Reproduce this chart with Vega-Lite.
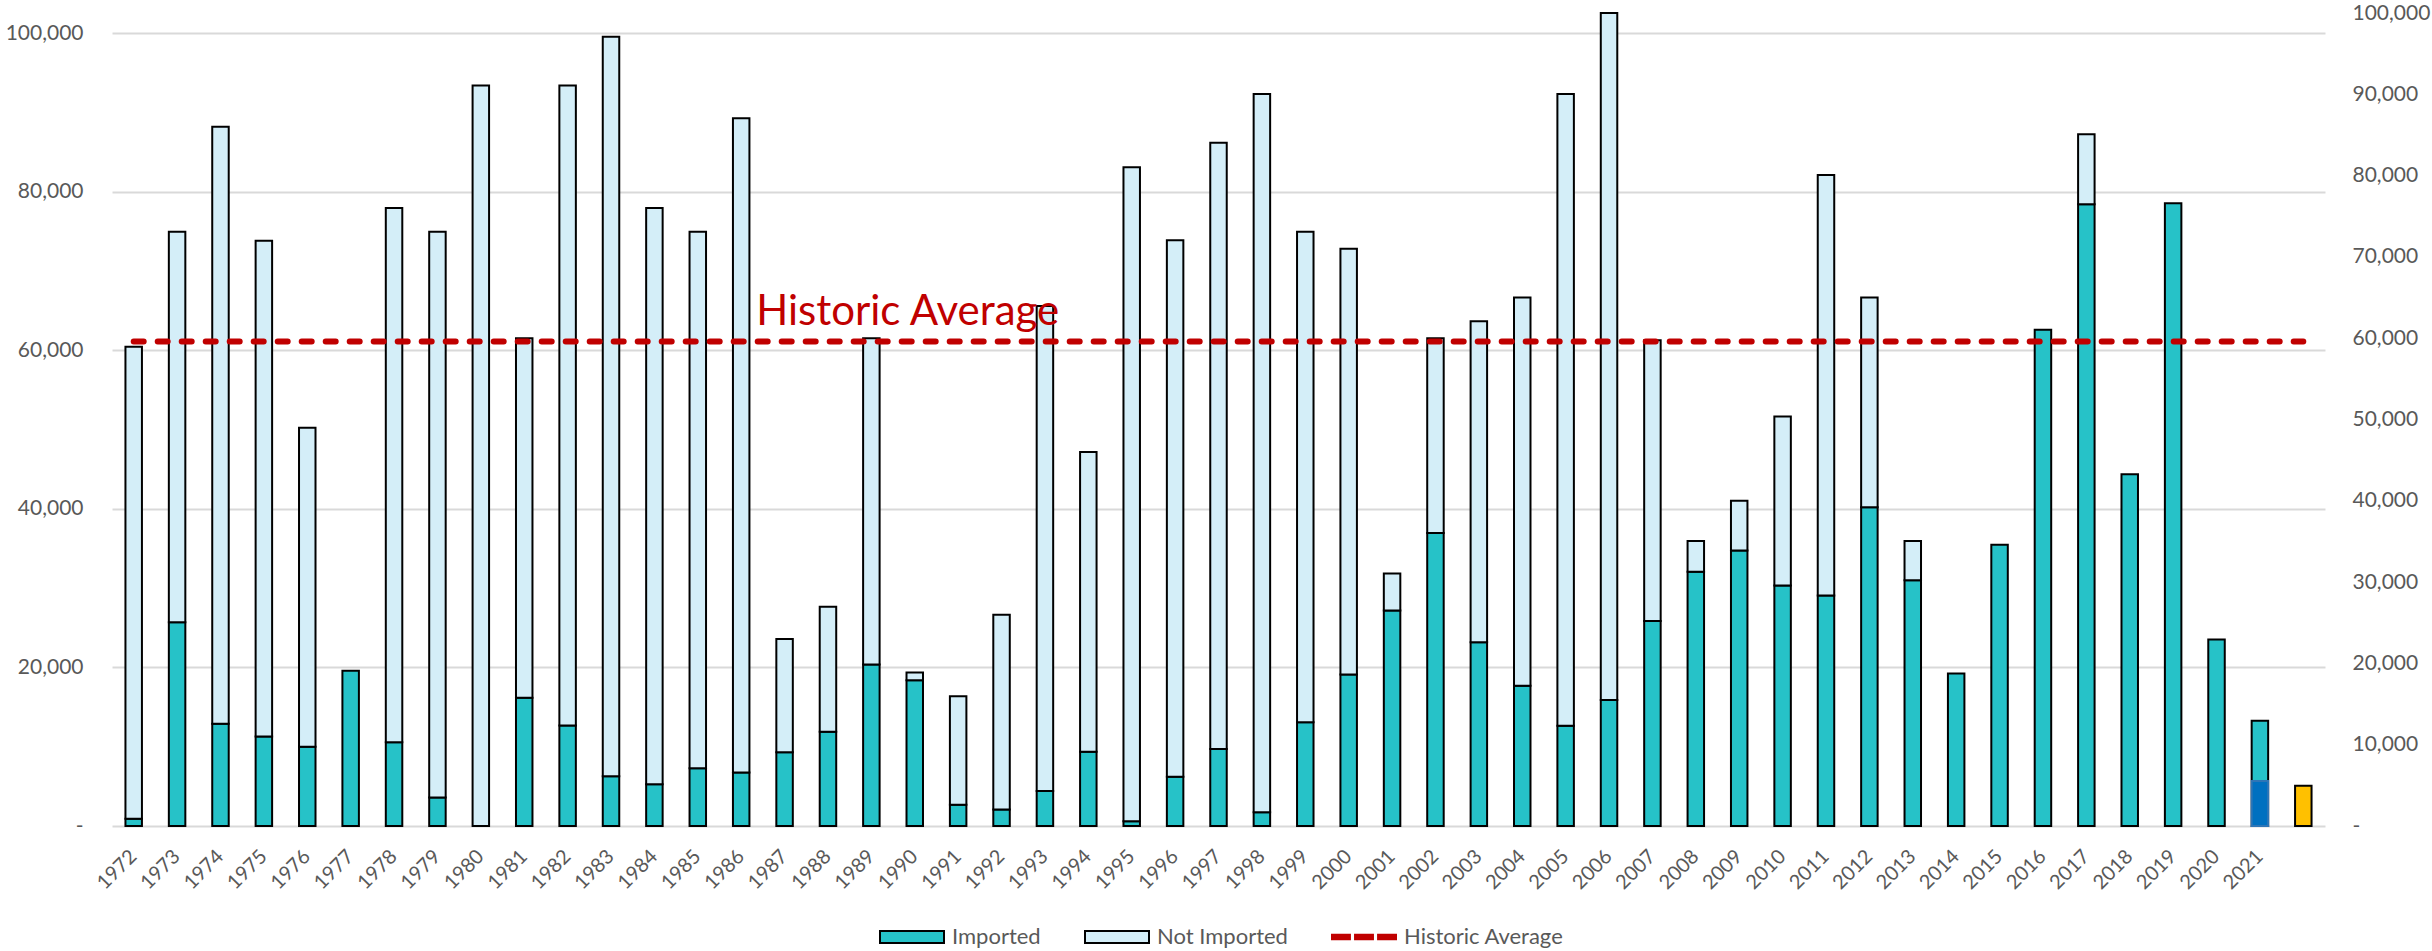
{
  "$schema": "https://vega.github.io/schema/vega-lite/v6.json",
  "width": 2213,
  "height": 813,
  "autosize": {"type": "none"},
  "padding": {"left": 112, "top": 13, "right": 107, "bottom": 125},
  "config": {
    "view": {"stroke": null},
    "font": "Lato",
    "axis": {"labelFont": "Lato", "labelColor": "#595959", "titleFont": "Lato"}
  },
  "datasets": {
    "counts": [
      {"Year": "1972", "Series": "Imported", "Value": 900}, {"Year": "1972", "Series": "Not Imported", "Value": 59550},
      {"Year": "1973", "Series": "Imported", "Value": 25700}, {"Year": "1973", "Series": "Not Imported", "Value": 49250},
      {"Year": "1974", "Series": "Imported", "Value": 12900}, {"Year": "1974", "Series": "Not Imported", "Value": 75280},
      {"Year": "1975", "Series": "Imported", "Value": 11300}, {"Year": "1975", "Series": "Not Imported", "Value": 62510},
      {"Year": "1976", "Series": "Imported", "Value": 10000}, {"Year": "1976", "Series": "Not Imported", "Value": 40230},
      {"Year": "1977", "Series": "Imported", "Value": 19570},
      {"Year": "1978", "Series": "Imported", "Value": 10550}, {"Year": "1978", "Series": "Not Imported", "Value": 67410},
      {"Year": "1979", "Series": "Imported", "Value": 3600}, {"Year": "1979", "Series": "Not Imported", "Value": 71350},
      {"Year": "1980", "Series": "Imported", "Value": 0}, {"Year": "1980", "Series": "Not Imported", "Value": 93390},
      {"Year": "1981", "Series": "Imported", "Value": 16170}, {"Year": "1981", "Series": "Not Imported", "Value": 45350},
      {"Year": "1982", "Series": "Imported", "Value": 12690}, {"Year": "1982", "Series": "Not Imported", "Value": 80700},
      {"Year": "1983", "Series": "Imported", "Value": 6280}, {"Year": "1983", "Series": "Not Imported", "Value": 93250},
      {"Year": "1984", "Series": "Imported", "Value": 5280}, {"Year": "1984", "Series": "Not Imported", "Value": 72680},
      {"Year": "1985", "Series": "Imported", "Value": 7280}, {"Year": "1985", "Series": "Not Imported", "Value": 67670},
      {"Year": "1986", "Series": "Imported", "Value": 6750}, {"Year": "1986", "Series": "Not Imported", "Value": 82500},
      {"Year": "1987", "Series": "Imported", "Value": 9290}, {"Year": "1987", "Series": "Not Imported", "Value": 14290},
      {"Year": "1988", "Series": "Imported", "Value": 11890}, {"Year": "1988", "Series": "Not Imported", "Value": 15770},
      {"Year": "1989", "Series": "Imported", "Value": 20370}, {"Year": "1989", "Series": "Not Imported", "Value": 41150},
      {"Year": "1990", "Series": "Imported", "Value": 18370}, {"Year": "1990", "Series": "Not Imported", "Value": 1000},
      {"Year": "1991", "Series": "Imported", "Value": 2670}, {"Year": "1991", "Series": "Not Imported", "Value": 13700},
      {"Year": "1992", "Series": "Imported", "Value": 2070}, {"Year": "1992", "Series": "Not Imported", "Value": 24580},
      {"Year": "1993", "Series": "Imported", "Value": 4410}, {"Year": "1993", "Series": "Not Imported", "Value": 61190},
      {"Year": "1994", "Series": "Imported", "Value": 9350}, {"Year": "1994", "Series": "Not Imported", "Value": 37810},
      {"Year": "1995", "Series": "Imported", "Value": 600}, {"Year": "1995", "Series": "Not Imported", "Value": 82500},
      {"Year": "1996", "Series": "Imported", "Value": 6210}, {"Year": "1996", "Series": "Not Imported", "Value": 67670},
      {"Year": "1997", "Series": "Imported", "Value": 9720}, {"Year": "1997", "Series": "Not Imported", "Value": 76450},
      {"Year": "1998", "Series": "Imported", "Value": 1740}, {"Year": "1998", "Series": "Not Imported", "Value": 90580},
      {"Year": "1999", "Series": "Imported", "Value": 13090}, {"Year": "1999", "Series": "Not Imported", "Value": 61860},
      {"Year": "2000", "Series": "Imported", "Value": 19100}, {"Year": "2000", "Series": "Not Imported", "Value": 53710},
      {"Year": "2001", "Series": "Imported", "Value": 27190}, {"Year": "2001", "Series": "Not Imported", "Value": 4670},
      {"Year": "2002", "Series": "Imported", "Value": 36940}, {"Year": "2002", "Series": "Not Imported", "Value": 24580},
      {"Year": "2003", "Series": "Imported", "Value": 23180}, {"Year": "2003", "Series": "Not Imported", "Value": 40480},
      {"Year": "2004", "Series": "Imported", "Value": 17700}, {"Year": "2004", "Series": "Not Imported", "Value": 48970},
      {"Year": "2005", "Series": "Imported", "Value": 12630}, {"Year": "2005", "Series": "Not Imported", "Value": 79690},
      {"Year": "2006", "Series": "Imported", "Value": 15900}, {"Year": "2006", "Series": "Not Imported", "Value": 86640},
      {"Year": "2007", "Series": "Imported", "Value": 25850}, {"Year": "2007", "Series": "Not Imported", "Value": 35410},
      {"Year": "2008", "Series": "Imported", "Value": 32060}, {"Year": "2008", "Series": "Not Imported", "Value": 3880},
      {"Year": "2009", "Series": "Imported", "Value": 34740}, {"Year": "2009", "Series": "Not Imported", "Value": 6280},
      {"Year": "2010", "Series": "Imported", "Value": 30330}, {"Year": "2010", "Series": "Not Imported", "Value": 21310},
      {"Year": "2011", "Series": "Imported", "Value": 29060}, {"Year": "2011", "Series": "Not Imported", "Value": 53040},
      {"Year": "2012", "Series": "Imported", "Value": 40210}, {"Year": "2012", "Series": "Not Imported", "Value": 26460},
      {"Year": "2013", "Series": "Imported", "Value": 31000}, {"Year": "2013", "Series": "Not Imported", "Value": 4940},
      {"Year": "2014", "Series": "Imported", "Value": 19240},
      {"Year": "2015", "Series": "Imported", "Value": 35470},
      {"Year": "2016", "Series": "Imported", "Value": 62590},
      {"Year": "2017", "Series": "Imported", "Value": 78420}, {"Year": "2017", "Series": "Not Imported", "Value": 8820},
      {"Year": "2018", "Series": "Imported", "Value": 44360},
      {"Year": "2019", "Series": "Imported", "Value": 78560},
      {"Year": "2020", "Series": "Imported", "Value": 23510},
      {"Year": "2021", "Series": "Imported", "Value": 13290}
    ],
    "average": [
      {"Year": "1972", "Series": "Historic Average", "Value": 61100},
      {"Year": "2022", "Series": "Historic Average", "Value": 61100}
    ],
    "annotation": [
      {"Year": "1986", "Label": "Historic Average", "Value": 61100}
    ],
    "extra": [
      {"Year": "2021", "Series": "2021 to date", "Value": 5540},
      {"Year": "2022", "Series": "2022 estimate", "Value": 4950}
    ]
  },
  "layer": [
    {
      "layer": [
        {
          "data": {"name": "counts"},
          "mark": {"type": "bar", "stroke": "black", "strokeWidth": 2},
          "encoding": {
            "x": {
              "field": "Year", "type": "nominal",
              "scale": {"paddingInner": 0.62, "paddingOuter": 0.31},
              "axis": {
                "title": null, "domain": false, "ticks": false, "grid": false,
                "labelAngle": -45, "labelAlign": "right", "labelBaseline": "middle",
                "labelPadding": 27, "labelFontSize": 20, "labelOverlap": false,
                "labelExpr": "datum.value == '2022' ? '' : datum.value"
              }
            },
            "y": {
              "field": "Value", "type": "quantitative", "stack": "zero",
              "scale": {"domain": [0, 102540], "nice": false, "zero": true},
              "axis": {
                "title": null, "orient": "left", "domain": false, "ticks": false,
                "grid": true, "gridColor": "#D9D9D9", "gridWidth": 2,
                "values": [0, 20000, 40000, 60000, 80000, 100000],
                "labelFontSize": 21, "labelPadding": 29,
                "labelExpr": "datum.value === 0 ? '-\u00a0\u00a0\u00a0\u00a0\u00a0' : format(datum.value, ',')"
              }
            },
            "color": {
              "field": "Series", "type": "nominal",
              "scale": {"domain": ["Imported", "Not Imported", "Historic Average"], "range": ["#26C2C8", "#D4EEF8", "#C00000"]},
              "legend": {
                "title": null, "orient": "none", "direction": "horizontal",
                "legendX": 767, "legendY": 891, "padding": 0,
                "symbolType": "M-1,-0.19H1V0.19H-1Z", "symbolSize": 4096,
                "symbolStrokeColor": "black", "symbolStrokeWidth": 2,
                "labelFont": "Lato", "labelFontSize": 22, "labelColor": "#595959",
                "labelOffset": 7, "columnPadding": 40,
                "encode": {
                  "symbols": {
                    "update": {
                      "shape": {"signal": "datum.value === 'Historic Average' ? 'M-1,-0.07H-0.44V0.07H-1Z M-0.28,-0.07H0.28V0.07H-0.28Z M0.44,-0.07H1V0.07H0.44Z' : 'M-1,-0.19H1V0.19H-1Z'"},
                      "stroke": {"signal": "datum.value === 'Historic Average' ? '#C00000' : 'black'"}
                    }
                  }
                }
              }
            },
            "order": {"field": "Series", "sort": "ascending"}
          }
        },
        {
          "data": {"name": "average"},
          "mark": {"type": "line", "color": "#C00000", "strokeWidth": 6, "strokeDash": [10, 14], "strokeCap": "round"},
          "encoding": {
            "x": {"field": "Year", "type": "nominal"},
            "y": {"field": "Value", "type": "quantitative"}
          }
        },
        {
          "data": {"name": "annotation"},
          "mark": {"type": "text", "align": "left", "baseline": "alphabetic", "dx": 15, "dy": -17, "fontSize": 42, "font": "Lato", "color": "#C00000"},
          "encoding": {
            "x": {"field": "Year", "type": "nominal"},
            "y": {"field": "Value", "type": "quantitative"},
            "text": {"field": "Label"}
          }
        }
      ]
    },
    {
      "data": {"name": "extra"},
      "layer": [
        {
          "transform": [{"filter": "datum.Series === '2021 to date'"}],
          "mark": {"type": "bar", "fill": "#0070C0", "stroke": "#2E75B6", "strokeWidth": 2},
          "encoding": {
            "x": {"field": "Year", "type": "nominal"},
            "y": {
              "field": "Value", "type": "quantitative",
              "scale": {"domain": [0, 100000], "nice": false, "zero": true},
              "axis": {
                "title": null, "orient": "right", "domain": false, "ticks": false, "grid": false,
                "values": [0, 10000, 20000, 30000, 40000, 50000, 60000, 70000, 80000, 90000, 100000],
                "labelFontSize": 21, "labelPadding": 27,
                "labelExpr": "datum.value === 0 ? '\u00a0-' : format(datum.value, ',')"
              }
            }
          }
        },
        {
          "transform": [{"filter": "datum.Series === '2022 estimate'"}],
          "mark": {"type": "bar", "fill": "#FFC000", "stroke": "black", "strokeWidth": 2},
          "encoding": {
            "x": {"field": "Year", "type": "nominal"},
            "y": {"field": "Value", "type": "quantitative"}
          }
        }
      ]
    }
  ],
  "resolve": {"scale": {"y": "independent"}}
}
